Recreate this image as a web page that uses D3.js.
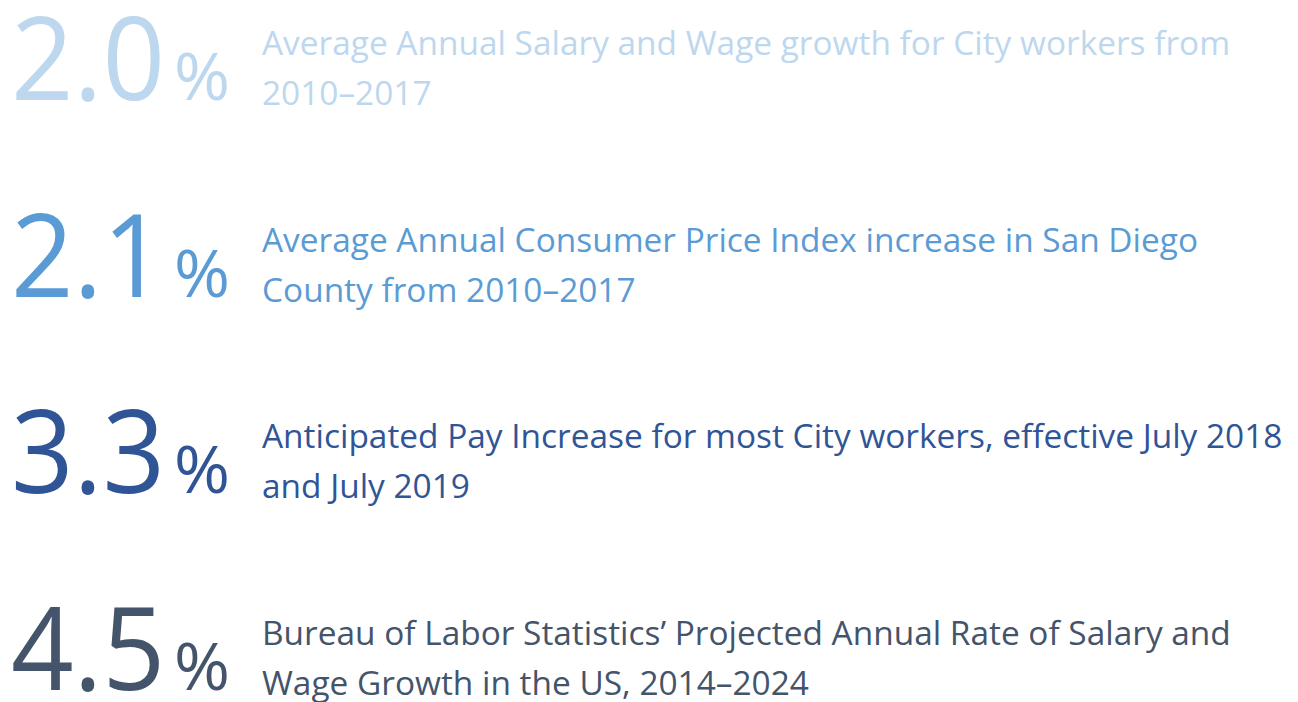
<!DOCTYPE html>
<html><head><meta charset="utf-8">
<script src="https://cdn.jsdelivr.net/npm/d3@7"></script>
<style>html,body{margin:0;padding:0;background:#fff;overflow:hidden}</style>
</head><body>
<svg id="c" width="1298" height="702"></svg>
<script>
const values = [2.0, 2.1, 3.3, 4.5];
const labelLine1 = [
  "Average Annual Salary and Wage growth for City workers from",
  "Average Annual Consumer Price Index increase in San Diego",
  "Anticipated Pay Increase for most City workers, effective July 2018",
  "Bureau of Labor Statistics\u2019 Projected Annual Rate of Salary and"
];
const labelLine2 = [
  "2010\u20132017",
  "County from 2010\u20132017",
  "and July 2019",
  "Wage Growth in the US, 2014\u20132024"
];
const colors = ["#bdd7ee", "#5b9bd5", "#2f5597", "#44546a"];

const svg = d3.select("#c");
const font = "'Open Sans', sans-serif";
const y = d3.scaleLinear().domain([0, values.length - 1]).range([100, 690]);

const rows = svg.selectAll("g.row").data(values).join("g")
  .attr("class","row")
  .attr("transform",(d,i)=>`translate(0,${y(i)})`);

rows.append("text").attr("class","big")
  .attr("x", 11).attr("y", 0)
  .attr("font-family", font).attr("font-size", 116).attr("font-weight", 400)
  .attr("fill",(d,i)=>colors[i])
  .text(d=>d.toFixed(1));

rows.append("text").attr("class","pct")
  .attr("x", 174).attr("y", 0)
  .attr("font-family", font).attr("font-size", 66)
  .attr("fill",(d,i)=>colors[i])
  .text("%");

rows.append("text").attr("class","l1")
  .attr("x", 262).attr("y", -45)
  .attr("font-family", font).attr("font-size", 32)
  .attr("fill",(d,i)=>colors[i])
  .text((d,i)=>labelLine1[i]);
rows.append("text").attr("class","l2")
  .attr("x", 262).attr("y", 5)
  .attr("font-family", font).attr("font-size", 32)
  .attr("fill",(d,i)=>colors[i])
  .text((d,i)=>labelLine2[i]);

// fit widths
const ref = svg.selectAll("text.l1").filter((d,i)=>i===2).node();
const w = ref.getComputedTextLength();
const fs = 32 * 1021 / w;
svg.selectAll("text.l1, text.l2").attr("font-size", fs);
svg.selectAll("text.big").attr("textLength", 154).attr("lengthAdjust","spacingAndGlyphs");
svg.selectAll("text.pct").attr("textLength", 56).attr("lengthAdjust","spacingAndGlyphs");
</script>
</body></html>
